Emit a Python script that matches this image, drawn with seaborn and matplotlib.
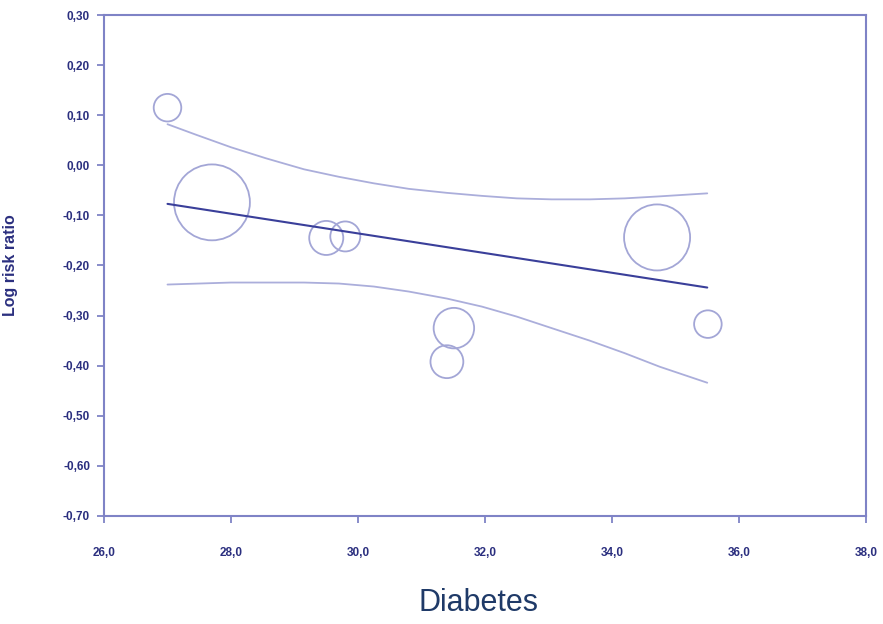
import matplotlib
matplotlib.use("Agg")
import matplotlib.pyplot as plt
import seaborn as sns
import pandas as pd

# Study data (bubble plot)
diabetes = [27.00, 27.70, 29.50, 29.80, 31.51, 31.40, 34.71, 35.51]
log_rr = [0.115, -0.074, -0.145, -0.142, -0.325, -0.392, -0.144, -0.317]
weight = [1.9, 14.4, 2.9, 2.25, 4.1, 2.7, 10.9, 1.9]

# Regression line end points
reg_x = [27.0, 35.5]
reg_y = [-0.077, -0.244]

# Confidence band
up_x = [27.0, 27.45, 28.0, 28.55, 29.15, 29.7, 30.25, 30.8, 31.4, 31.95,
        32.5, 33.05, 33.65, 34.2, 34.75, 35.5]
up_y = [0.082, 0.061, 0.036, 0.014, -0.008, -0.023, -0.036, -0.047, -0.055, -0.061,
        -0.066, -0.068, -0.068, -0.066, -0.062, -0.056]
lo_x = [27.0, 28.0, 29.15, 29.7, 30.25, 30.8, 31.4, 31.95, 32.5, 33.05,
        33.65, 34.2, 34.75, 35.5]
lo_y = [-0.238, -0.234, -0.234, -0.236, -0.242, -0.252, -0.266, -0.282, -0.302, -0.325,
        -0.350, -0.375, -0.402, -0.434]

x_ticks = [26, 28, 30, 32, 34, 36, 38]
y_ticks = [0.3, 0.2, 0.1, 0.0, -0.1, -0.2, -0.3, -0.4, -0.5, -0.6, -0.7]

sns.set_style("white")
plt.rcParams['font.family'] = ['Liberation Sans', 'DejaVu Sans']

spine_col = "#7F83C6"
tick_col = "#2B2F7F"
bubble_col = "#A3A6D6"
reg_col = "#3A3F9A"
ci_col = "#ABAEDB"

fig = plt.figure(figsize=(8.83, 6.24), dpi=100)
ax = fig.add_axes([104/883, 1-516/624, 762/883, 501/624])

df = pd.DataFrame({"x": diabetes, "y": log_rr, "w": weight})
sns.scatterplot(data=df, x="x", y="y", size="w", sizes=(0, 2986), size_norm=(0, 14.4),
                facecolor="none", edgecolor=bubble_col, linewidth=1.3, legend=False, ax=ax)

sns.lineplot(x=up_x, y=up_y, color=ci_col, linewidth=1.3, ax=ax)
sns.lineplot(x=lo_x, y=lo_y, color=ci_col, linewidth=1.3, ax=ax)
sns.lineplot(x=reg_x, y=reg_y, color=reg_col, linewidth=1.5, ax=ax)

ax.set_xlim(26, 38)
ax.set_ylim(-0.7, 0.3)
ax.set_xticks(x_ticks)
ax.set_xticklabels([f"{v:.1f}".replace(".", ",") for v in x_ticks])
ax.set_yticks(y_ticks)
ax.set_yticklabels([f"{v:.2f}".replace(".", ",").replace("-0,00", "0,00") for v in y_ticks])

for s in ax.spines.values():
    s.set_color(spine_col)
    s.set_linewidth(1.5)
    s.set_visible(True)

ax.tick_params(axis="both", direction="out", length=5, width=1.3, color=spine_col,
               labelcolor=tick_col, labelsize=8.5)
ax.tick_params(axis="x", pad=17, bottom=True)
ax.tick_params(axis="y", pad=5, left=True)
for lab in ax.get_xticklabels() + ax.get_yticklabels():
    lab.set_fontweight("bold")

ax.set_ylabel("Log risk ratio", fontsize=11.5, fontweight="bold", color=tick_col)
ax.yaxis.set_label_coords(-0.113, 0.5)
ax.set_xlabel("Diabetes", fontsize=22, color="#1F3A68", va="center")
ax.xaxis.set_label_coords(0.491, -0.174)

fig.savefig("out.png", dpi=100)
